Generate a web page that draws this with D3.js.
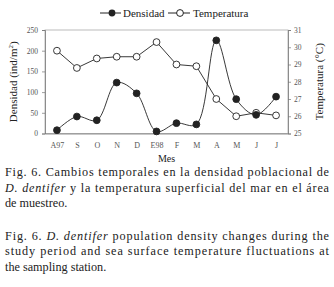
<!DOCTYPE html>
<html lang="es">
<head>
<meta charset="UTF-8">
<title>Fig. 6 Densidad y temperatura</title>
<script src="https://cdn.jsdelivr.net/npm/d3@7"></script>
<style>
  body { margin: 0; background: #fff; }
  svg text { font-family: "Liberation Serif", "DejaVu Serif", serif !important; }
</style>
</head>
<body>
<div id="chart"></div>
<script>
// datos
const months = ["A97", "S", "O", "N", "D", "E98", "F", "M", "A", "M", "J", "J"];
const density = [8, 41, 32, 123, 97, 5, 25, 22, 225, 83, 45, 89];
const temperature = [29.8, 28.8, 29.35, 29.45, 29.45, 30.3, 29.0, 28.9, 27.0, 26.0, 26.2, 26.05];
const densityTicks = [0, 50, 100, 150, 200, 250];
const tempTicks = [25, 26, 27, 28, 29, 30, 31];

// cada linea: partes [texto, cursiva], justificar
const captionEs = [
  [[["Fig. 6. Cambios temporales en la densidad poblacional de", false]], true],
  [[["D. dentifer", true], [" y la temperatura superficial del mar en el área", false]], true],
  [[["de muestreo.", false]], false]
];
const captionEn = [
  [[["Fig. 6. ", false], ["D. dentifer", true], [" population density changes during the", false]], true],
  [[["study period and sea surface temperature fluctuations at", false]], true],
  [[["the sampling station.", false]], false]
];

const width = 334, height = 287;
const margin = {top: 30, right: 46, bottom: 153.5, left: 45};
const innerW = width - margin.left - margin.right;
const innerH = height - margin.top - margin.bottom;

const svg = d3.select("#chart").append("svg")
  .attr("width", width).attr("height", height);

const g = svg.append("g").attr("transform", `translate(${margin.left},${margin.top})`);

const x = d3.scalePoint().domain(d3.range(months.length)).range([0, innerW]).padding(0.6);
const yD = d3.scaleLinear().domain([0, 250]).range([innerH, 0]);
const yT = d3.scaleLinear().domain([25, 31]).range([innerH, 0]);

// marco
g.append("rect").attr("width", innerW).attr("height", innerH)
  .attr("fill", "none").attr("stroke", "#aaa").attr("stroke-width", 0.8);

// ejes
const axL = g.append("g")
  .call(d3.axisLeft(yD).tickValues(densityTicks).tickSize(3).tickPadding(4));
const axR = g.append("g").attr("transform", `translate(${innerW},0)`)
  .call(d3.axisRight(yT).tickValues(tempTicks).tickFormat(d3.format("d")).tickSize(3).tickPadding(3));
const axB = g.append("g").attr("transform", `translate(0,${innerH})`)
  .call(d3.axisBottom(x).tickSize(0).tickPadding(9).tickFormat(i => months[i]));

[axL, axR, axB].forEach(a => {
  a.attr("font-family", "Liberation Serif, serif");
  a.select(".domain").attr("stroke", "#777").attr("stroke-width", 0.8);
  a.selectAll(".tick line").attr("stroke", "#777").attr("stroke-width", 0.7);
  a.selectAll("text").attr("fill", "#555").attr("font-size", 7.5);
});
axB.selectAll("text").attr("font-size", 8);

// titulos de ejes
svg.append("text")
  .attr("transform", `translate(17,${margin.top + innerH / 2}) rotate(-90)`)
  .attr("text-anchor", "middle").attr("font-size", 11).attr("fill", "#222")
  .html("Densidad (ind/m<tspan dy='-4' font-size='7'>2</tspan><tspan dy='4'>)</tspan>");
svg.append("text")
  .attr("transform", `translate(323,${margin.top + innerH / 2}) rotate(-90)`)
  .attr("text-anchor", "middle").attr("font-size", 11).attr("fill", "#222")
  .text("Temperatura (°C)");
svg.append("text")
  .attr("x", margin.left + innerW / 2).attr("y", 162)
  .attr("text-anchor", "middle").attr("font-size", 10).attr("fill", "#222")
  .text("Mes");

// lineas
const lineD = d3.line()
  .x((d, i) => x(i)).y(d => yD(d))
  .curve(d3.curveCatmullRom.alpha(0.5));
const lineT = d3.line()
  .x((d, i) => x(i)).y(d => yT(d));

g.append("path").datum(temperature).attr("d", lineT)
  .attr("fill", "none").attr("stroke", "#222").attr("stroke-width", 0.9);
g.append("path").datum(density).attr("d", lineD)
  .attr("fill", "none").attr("stroke", "#222").attr("stroke-width", 0.9);

g.selectAll("circle.t").data(temperature).join("circle").attr("class", "t")
  .attr("cx", (d, i) => x(i)).attr("cy", d => yT(d)).attr("r", 3.4)
  .attr("fill", "#fff").attr("stroke", "#222").attr("stroke-width", 0.9);
g.selectAll("circle.d").data(density).join("circle").attr("class", "d")
  .attr("cx", (d, i) => x(i)).attr("cy", d => yD(d)).attr("r", 3.4)
  .attr("fill", "#222").attr("stroke", "#222").attr("stroke-width", 0.9);

// leyenda
const leg = svg.append("g").attr("transform", "translate(100,13)");
leg.append("line").attr("x1", 0).attr("x2", 21).attr("stroke", "#222");
leg.append("circle").attr("cx", 12).attr("r", 3.4).attr("fill", "#222");
leg.append("text").attr("x", 23).attr("y", 4).attr("font-size", 11).attr("fill", "#222").text("Densidad");
leg.append("line").attr("x1", 68).attr("x2", 90).attr("stroke", "#222");
leg.append("circle").attr("cx", 80).attr("r", 3.4).attr("fill", "#fff").attr("stroke", "#222");
leg.append("text").attr("x", 93).attr("y", 4).attr("font-size", 11).attr("fill", "#222").text("Temperatura");

// pie de figura
function caption(lines, y0) {
  lines.forEach(([parts, justify], i) => {
    const txt = svg.append("text")
      .attr("x", 5).attr("y", y0 + i * 15.5)
      .attr("font-size", 12.2).attr("fill", "#222");
    parts.forEach(([t, it]) => {
      txt.append("tspan").attr("font-style", it ? "italic" : "normal").text(t);
    });
    if (justify) txt.attr("textLength", 324).attr("lengthAdjust", "spacing");
  });
}
caption(captionEs, 176);
caption(captionEn, 239.5);
</script>
</body>
</html>
